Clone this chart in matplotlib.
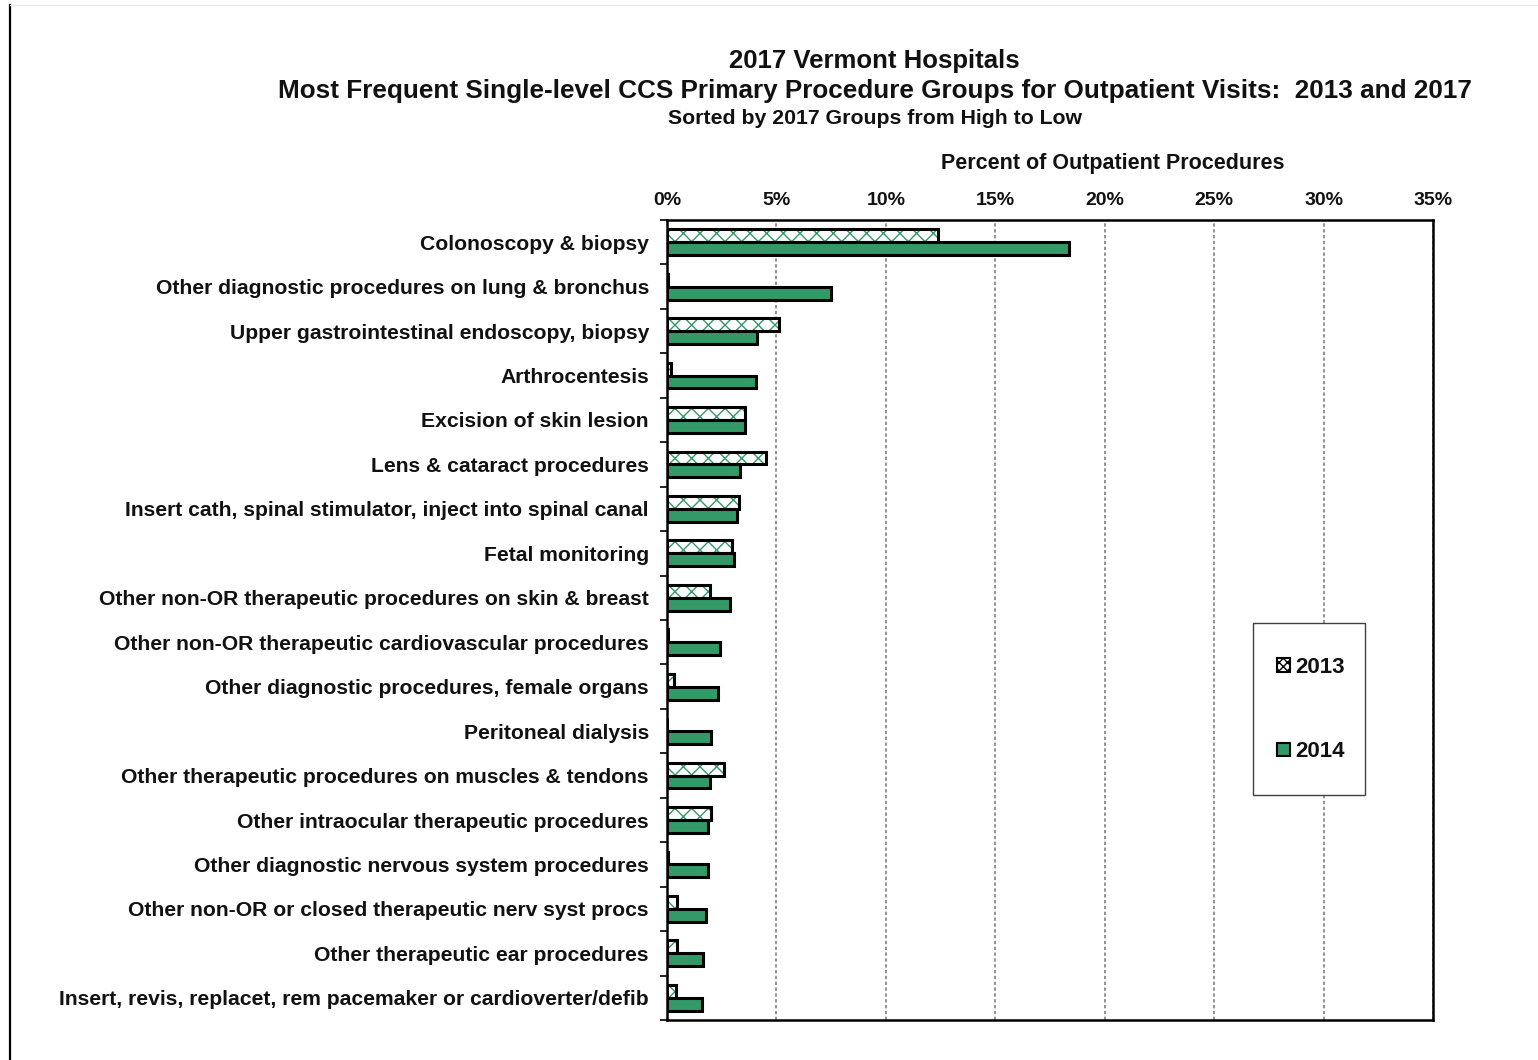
import matplotlib
matplotlib.use("Agg")
import matplotlib.pyplot as plt
import numpy as np
from matplotlib.patches import Patch, Rectangle
from matplotlib.lines import Line2D

plt.rcParams['font.family'] = ['Liberation Sans', 'DejaVu Sans']
plt.rcParams['hatch.linewidth'] = 1.0

categories = [
    "Colonoscopy & biopsy",
    "Other diagnostic procedures on lung & bronchus",
    "Upper gastrointestinal endoscopy, biopsy",
    "Arthrocentesis",
    "Excision of skin lesion",
    "Lens & cataract procedures",
    "Insert cath, spinal stimulator, inject into spinal canal",
    "Fetal monitoring",
    "Other non-OR therapeutic procedures on skin & breast",
    "Other non-OR therapeutic cardiovascular procedures",
    "Other diagnostic procedures, female organs",
    "Peritoneal dialysis",
    "Other therapeutic procedures on muscles & tendons",
    "Other intraocular therapeutic procedures",
    "Other diagnostic nervous system procedures",
    "Other non-OR or closed therapeutic nerv syst procs",
    "Other therapeutic ear procedures",
    "Insert, revis, replacet, rem pacemaker or cardioverter/defib",
]
values_2013 = [12.4, 0.05, 5.12, 0.18, 3.57, 4.54, 3.29, 2.96, 1.95, 0.05,
               0.32, 0.0, 2.62, 2.01, 0.03, 0.47, 0.47, 0.43]
values_2017 = [18.35, 7.51, 4.11, 4.07, 3.55, 3.34, 3.20, 3.05, 2.88, 2.44,
               2.35, 2.03, 1.97, 1.87, 1.87, 1.77, 1.63, 1.59]
legend_labels = ["2013", "2014"]
xticks = [0, 5, 10, 15, 20, 25, 30, 35]

green = '#339966'
txt = '#111111'

fig = plt.figure(figsize=(15.38, 10.60), dpi=100)
ax = fig.add_axes([0.4337, 0.0377, 0.4980, 0.7548])

n = len(categories)
y = np.arange(n)
h = 0.29
ax.barh(y - h / 2, values_2013, height=h, color='white', edgecolor=green,
        hatch='xx', linewidth=0, zorder=3)
ax.barh(y - h / 2, values_2013, height=h, color='none', edgecolor='black',
        linewidth=2.2, zorder=4)
ax.barh(y + h / 2, values_2017, height=h, color=green, edgecolor='black',
        linewidth=2.2, zorder=4)

ax.set_ylim(n - 0.5, -0.5)
ax.set_xlim(0, 35)
ax.set_yticks(y)
ax.set_yticklabels(categories, fontsize=15.2, fontweight='bold', color=txt)
ax.set_yticks(np.arange(-0.5, n, 1), minor=True)
ax.tick_params(axis='y', which='major', length=0, pad=13)
ax.tick_params(axis='y', which='minor', length=5, width=1.2, direction='out')

ax.xaxis.tick_top()
ax.set_xticks(xticks)
ax.set_xticklabels([f"{t}%" for t in xticks], fontsize=14, fontweight='bold', color=txt)
ax.tick_params(axis='x', length=0, pad=8)
fig.text(1113 / 1538, 1 - 164 / 1060, "Percent of Outpatient Procedures",
         ha='center', va='center', fontsize=15.5, fontweight='bold', color=txt)
ax.grid(axis='x', linestyle=(0, (2, 1.5)), color='#808080', linewidth=1.2, zorder=0)
for s in ax.spines.values():
    s.set_linewidth(1.8)
    s.set_color('black')

# legend frame
fig.add_artist(Rectangle((1253 / 1538, 1 - 795 / 1060), 112 / 1538, 172 / 1060,
                         transform=fig.transFigure, facecolor='white',
                         edgecolor='#404040', linewidth=1.0, zorder=5))
handles = [
    Patch(facecolor='white', edgecolor='black', hatch='xxxx', linewidth=1.5,
          label=legend_labels[0]),
    Patch(facecolor=green, edgecolor='black', linewidth=1.5, label=legend_labels[1]),
]
leg = fig.legend(handles=handles, loc='center', bbox_to_anchor=(1311 / 1538, 1 - 709.5 / 1060),
                 prop={'weight': 'bold', 'size': 16},
                 handlelength=0.55, handleheight=0.55, handletextpad=0.25,
                 labelspacing=2.85, borderpad=0, frameon=False, borderaxespad=0)
leg.set_zorder(6)
for t in leg.get_texts():
    t.set_color(txt)

fig.text(0.5686, 1 - 61 / 1060, "2017 Vermont Hospitals", ha='center', va='center',
         fontsize=18.5, fontweight='bold', color=txt)
fig.text(0.5686, 1 - 91 / 1060,
         "Most Frequent Single-level CCS Primary Procedure Groups for Outpatient Visits:  2013 and 2017",
         ha='center', va='center', fontsize=18.8, fontweight='bold', color=txt)
fig.text(0.5686, 1 - 119 / 1060, "Sorted by 2017 Groups from High to Low", ha='center',
         va='center', fontsize=15.3, fontweight='bold', color=txt)

fig.add_artist(Line2D([9.5 / 1538, 9.5 / 1538], [0.0, 1 - 5 / 1060], transform=fig.transFigure,
                      color='black', linewidth=1.6))
fig.add_artist(Line2D([9.5 / 1538, 1.0], [1 - 5 / 1060, 1 - 5 / 1060], transform=fig.transFigure,
                      color='#e8e8e8', linewidth=1.0))

fig.savefig("out.png", dpi=100)
